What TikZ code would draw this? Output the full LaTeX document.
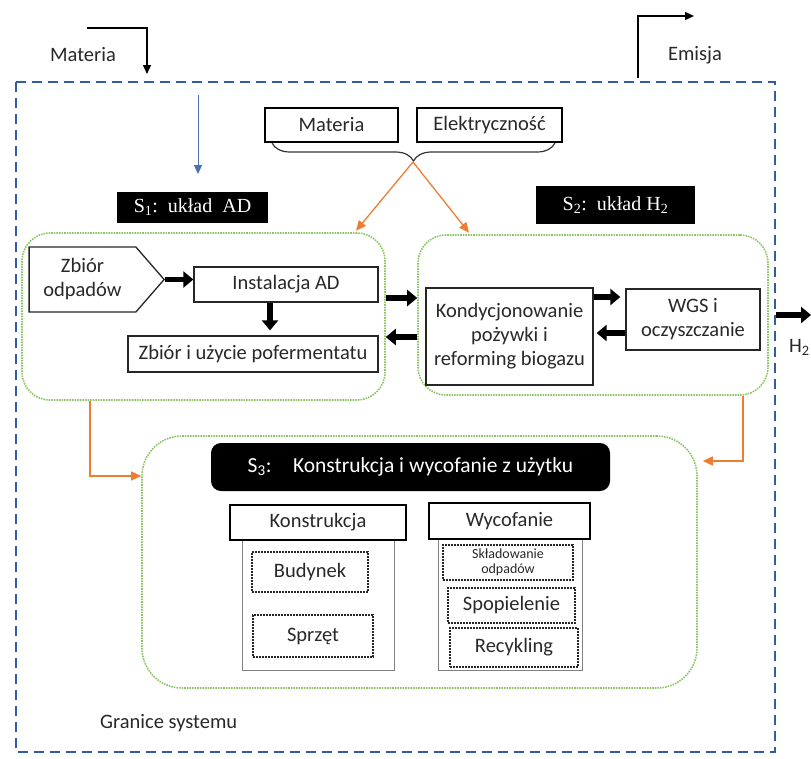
\documentclass[tikz,border=0pt]{standalone}
\usepackage{fontspec}
\setmainfont{Carlito}
\newfontfamily\titlefont{Liberation Serif}
\usetikzlibrary{arrows.meta, positioning, calc, shapes.symbols, decorations.pathreplacing}
\definecolor{sysGreen}{RGB}{141,196,104}
\definecolor{feedOrange}{RGB}{237,125,49}
\definecolor{limitBlue}{RGB}{52,92,158}
\definecolor{flowBlue}{RGB}{74,114,176}
\definecolor{inkGray}{RGB}{40,40,40}

\begin{document}
\begin{tikzpicture}[x=1pt, y=-1pt,
    sz/.style 2 args={minimum width=#1pt, minimum height=#2pt},
    lbl/.style={inner sep=0pt, font=\fontsize{20.5}{24}\selectfont, text=inkGray},
    proc/.style={lbl, draw=black!85, line width=1.3pt, align=center},
    hdr/.style={lbl, draw=black, line width=2.4pt},
    part/.style={lbl, draw=black!50, line width=1pt},
    item/.style={lbl, draw=black!85, densely dotted, line width=2pt, align=center},
    bar/.style={inner sep=0pt, fill=black, text=white},
    sys/.style={draw=sysGreen, densely dotted, line width=1.6pt, rounded corners=28pt},
    fat/.style={line width=5.5pt, -{Triangle[length=10pt, width=16pt]}},
    feed/.style={draw=feedOrange, line width=1.3pt, -{Triangle[length=10pt, width=9pt]}},
    inflow/.style={line width=1.4pt, -{Triangle[length=9pt, width=8pt]}}
  ]
  \useasboundingbox (0,0) rectangle (811,758);

  % system boundary
  \draw[limitBlue, line width=1.6pt, dash pattern=on 10pt off 6pt] (16,82) rectangle (775,752);
  \node[lbl] (matLbl) at (83,55) {Materia};
  \node[lbl] (emLbl) at (695,55) {Emisja};
  \node[lbl, anchor=west] (limLbl) at (100,723) {Granice systemu};
  \coordinate (matA) at (87,28);
  \coordinate (matB) at (147,74);
  \coordinate (emA) at (638,78);
  \coordinate (emB) at (694,16);
  \draw[inflow] (matA) -| (matB);
  \draw[inflow] (emA) |- (emB);
  \coordinate (inTop) at (198,95);
  \coordinate (inBot) at (198,174);
  \draw[inflow, flowBlue, line width=1pt] (inTop) -- (inBot);

  % inputs
  \node[hdr, sz={133}{34}] (mat) at (331.5,125) {Materia};
  \node[hdr, sz={145}{34}] (elek) at (489.5,125) {Elektryczność};
  \draw[decorate, decoration={brace, amplitude=18pt}, line width=1.2pt, black!80] (555,143) -- (272,143);
  \coordinate (tip) at (413,162);

  % subsystems
  \node[sys, sz={363}{167}] (s1) at (203.5,316.5) {};
  \node[sys, sz={350}{160}] (s2) at (593,315) {};
  \node[sys, sz={555}{252}, rounded corners=40pt] (s3) at (419.5,562) {};
  \node[bar, sz={151}{31}, font=\titlefont\fontsize{20}{24}\selectfont] (t1) at (192.5,207.5) {S\textsubscript{1}:\ \ układ\ \ AD};
  \node[bar, sz={159}{38}, font=\titlefont\fontsize{20}{24}\selectfont] (t2) at (615.5,205) {S\textsubscript{2}:\ \ układ H\textsubscript{2}};
  \node[bar, rounded corners=10pt, sz={399}{48}, font=\fontsize{21.5}{25}\selectfont] (t3) at (410.5,467) {S\textsubscript{3}:\quad Konstrukcja i wycofanie z użytku};

  \draw[feed, shorten >=2pt] (tip) -- ([xshift=-31pt]s1.north east);
  \draw[feed, shorten >=2pt] (tip) -- ([xshift=53pt]s2.north west);

  % S1
  \node[proc, shape=signal, signal to=east, signal pointer angle=98, sz={135}{65}] (zb) at (82.5,279.5) {Zbiór\\odpadów};
  \node[proc, sz={184}{35}] (inst) at (286,284.5) {Instalacja AD};
  \node[proc, sz={250}{36}] (zbu) at (253,354) {Zbiór i użycie pofermentatu};
  \draw[fat] (zb.east) -- (zb.east -| inst.west);
  \draw[fat, shorten >=5pt] ([xshift=-16pt]inst.south) -- ([xshift=-16pt]inst.south |- zbu.north);

  % S2
  \node[proc, sz={167}{97}] (kond) at (509.5,336.5) {Kondycjonowanie\\pożywki i\\reforming biogazu};
  \node[proc, sz={134}{61}] (wgs) at (693,319.5) {WGS i\\oczyszczanie};
  \draw[fat, shorten >=5pt] (kond.east |- 0,297) -- (wgs.west |- 0,297);
  \draw[fat, shorten >=3pt] (wgs.west |- 0,333) -- (kond.east |- 0,333);
  \draw[fat] (s1.east |- 0,298) -- (s2.west |- 0,298);
  \draw[fat] (s2.west |- 0,337) -- (s1.east |- 0,337);
  \coordinate (h2out) at (811,315);
  \draw[fat, shorten <=7pt] (s2.east |- h2out) -- (h2out);
  \node[lbl, anchor=west] (h2Lbl) at (789,347) {H\textsubscript{2}};

  % S3
  \draw[feed] (s1.south -| 90,0) |- (s3.west |- 0,476);
  \draw[feed, shorten >=5pt] (s2.south -| 743,0) |- (s3.east |- 0,461);
  \node[part, sz={152}{130}] (konB) at (318,605) {};
  \node[part, sz={144}{131}] (wycB) at (510,604.5) {};
  \node[hdr, sz={176}{35}, fill=white] (kon) at (318,522.5) {Konstrukcja};
  \node[hdr, sz={161}{36}, fill=white] (wyc) at (509.5,521) {Wycofanie};
  \node[item, sz={116}{40}] (bud) at (310,572) {Budynek};
  \node[item, sz={120}{42}] (spr) at (313,636) {Sprzęt};
  \node[item, sz={130}{35}, font=\fontsize{14}{15.5}\selectfont] (skl) at (508,562.5) {Składowanie\\odpadów};
  \node[item, sz={127}{35}] (spo) at (511.5,605.5) {Spopielenie};
  \node[item, sz={128}{39}] (rec) at (514,647.5) {Recykling};
\end{tikzpicture}
\end{document}
